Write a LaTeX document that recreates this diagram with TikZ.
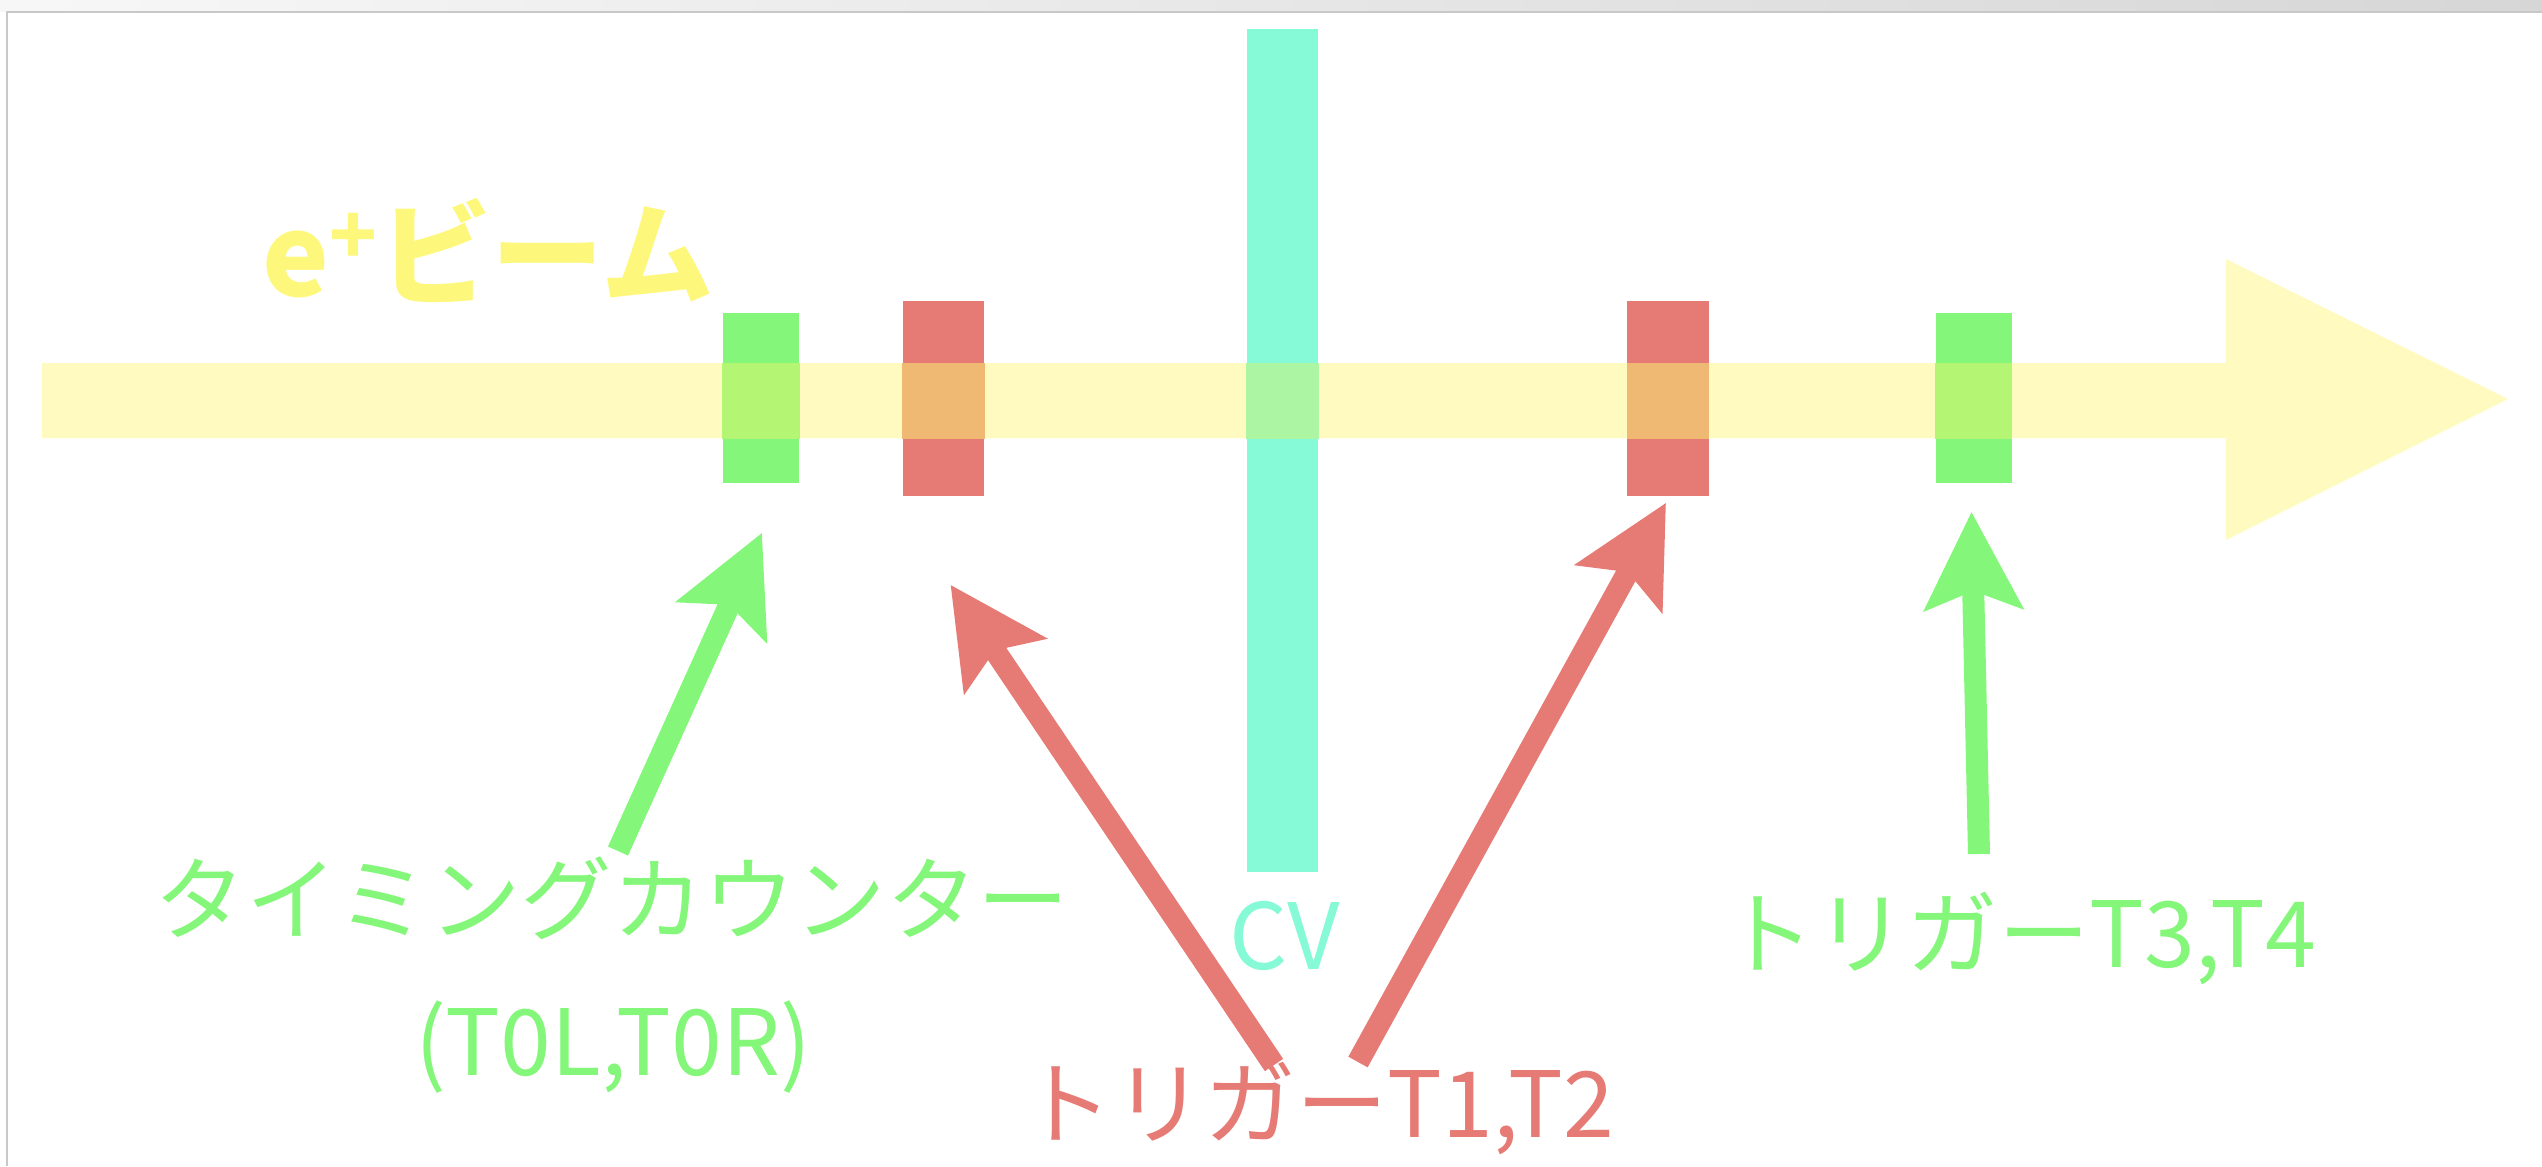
\documentclass[tikz,border=0pt]{standalone}
\usepackage{fontspec}
\setmainfont{Noto Sans CJK JP}
\usetikzlibrary{arrows.meta,positioning}
\definecolor{beamyel}{RGB}{255,250,192}
\definecolor{beamtxt}{RGB}{253,248,124}
\definecolor{tcgreen}{RGB}{132,247,122}
\definecolor{trigred}{RGB}{230,122,116}
\definecolor{cvcyan}{RGB}{134,249,214}
\definecolor{tconbeam}{RGB}{180,245,116}
\definecolor{trigonbeam}{RGB}{239,185,116}
\definecolor{cvonbeam}{RGB}{172,245,163}
\definecolor{chrome}{RGB}{200,200,200}
\tikzset{counter/.style={rectangle,inner sep=0pt,minimum width=0.76cm,minimum height=1.7cm,fill=tcgreen},
  trig/.style={rectangle,inner sep=0pt,minimum width=0.81cm,minimum height=1.95cm,fill=trigred},
  ptr/.style={-{Stealth[length=9.7mm,width=9.7mm,inset=1.8mm]},line width=0.22cm},
  lbl/.style={inner sep=0pt,font=\fontsize{26}{31}\selectfont}}

\begin{document}
\begin{tikzpicture}[x=0.01cm,y=-0.01cm]
\useasboundingbox (0,0) rectangle (2542,1166);
% window frame
\shade[left color=white!97!black,right color=white!84!black] (0,0) rectangle (2542,11);
\draw[chrome,line width=0.02cm] (7,1166) -- (7,12) -- (2542,12);
% beam arrow
\fill[beamyel] (42,363) -- (2226,363) -- (2226,259) -- (2508,399) -- (2226,540) -- (2226,438) -- (42,438) -- cycle;
\node[font=\fontsize{32}{38}\selectfont\bfseries,text=beamtxt,inner sep=0pt] (beam) at (488,250) {e\textsuperscript{+}ビーム};
% detectors along the beam
\node[counter] (t0) at (761,398) {};
\node[trig] (t1) at (943.5,398.5) {};
\node[rectangle,inner sep=0pt,minimum width=0.71cm,minimum height=8.43cm,fill=cvcyan] (cv) at (1282.5,450.5) {};
\node[trig] (t2) at (1668,398.5) {};
\node[counter] (t3) at (1973.5,398) {};
\begin{scope}
\clip (42,363) rectangle (2226,438);
\fill[tconbeam] (t0.south west) rectangle (t0.north east);
\fill[tconbeam] (t3.south west) rectangle (t3.north east);
\fill[trigonbeam] (t1.south west) rectangle (t1.north east);
\fill[trigonbeam] (t2.south west) rectangle (t2.north east);
\fill[cvonbeam] (cv.south west) rectangle (cv.north east);
\end{scope}
% labels
\node[lbl,text=tcgreen] (tc) at (612,898) {タイミングカウンター};
\node[lbl,text=tcgreen] (tcname) at (613,1047) {(T0L,T0R)};
\node[lbl,text=cvcyan] (cvname) at (1285,936) {CV};
\node[lbl,text=trigred] (t12) at (1318,1108) {トリガーT1,T2};
\node[lbl,text=tcgreen] (t34) at (2020,938) {トリガーT3,T4};
% pointers
\draw[ptr,tcgreen] ([shift={(6,-47)}]tc.center) -- ([shift={(1,49)}]t0.south);
\draw[ptr,trigred] ([shift={(-44,-43)}]t12.center) -- ([shift={(7,88)}]t1.south);
\draw[ptr,trigred] ([shift={(40,-46)}]t12.center) -- ([shift={(-2,6)}]t2.south);
\draw[ptr,tcgreen] ([shift={(-41,-84)}]t34.center) -- ([shift={(-2,28)}]t3.south);
\end{tikzpicture}
\end{document}
